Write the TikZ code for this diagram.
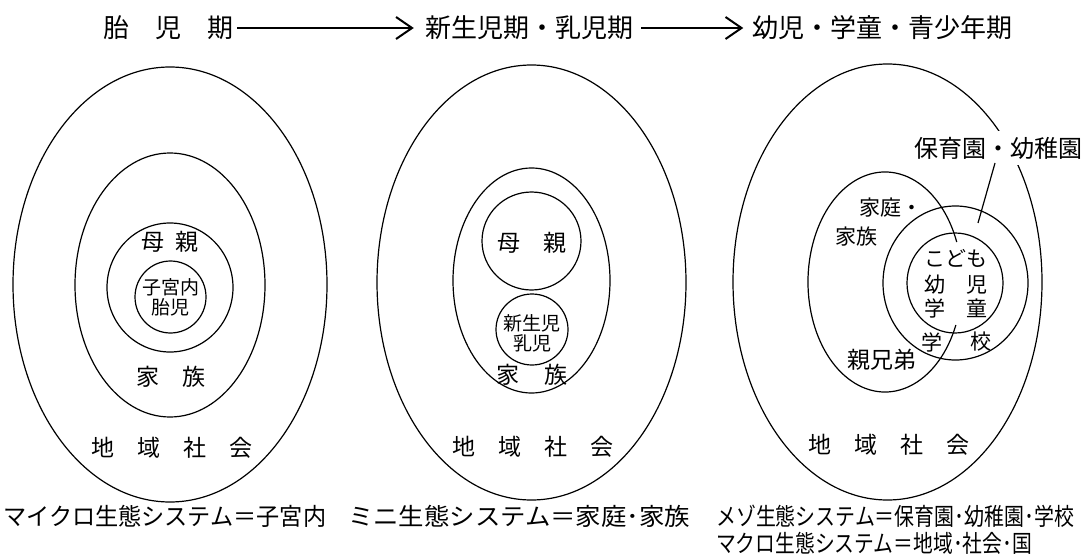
\documentclass[tikz,border=0pt]{standalone}
\usepackage{fontspec}
\setmainfont{Noto Sans CJK JP}
\usetikzlibrary{arrows.meta,shapes.geometric}
\begin{document}
\begin{tikzpicture}[x=1pt,y=-1pt,
  ring/.style={draw, ellipse, inner sep=0pt, line width=1.2pt},
  ln/.style={line width=1.2pt},
  ttl/.style={inner sep=0pt, font=\fontsize{26}{26}\selectfont},
  lab/.style={inner sep=0pt, font=\fontsize{23}{23}\selectfont},
  slab/.style={inner sep=0pt, font=\fontsize{19}{21}\selectfont, align=center},
  mlab/.style={inner sep=0pt, font=\fontsize{21}{23}\selectfont},
  captxt/.style={inner sep=0pt, anchor=west, font=\fontsize{24}{24}\selectfont},
  tarrow/.style={line width=2pt, -{Straight Barb[length=16pt,width=22pt,line width=2pt]}}
]
\useasboundingbox (0,0) rectangle (1086,559);

% ---- title ----
\node[ttl] (t1) at (168,28) {胎　児　期};
\node[ttl] (t2) at (529,28) {新生児期・乳児期};
\node[ttl] (t3) at (882.5,28) {幼児・学童・青少年期};
\draw[tarrow, shorten <=4pt, shorten >=11pt] (t1.east) -- (t2.west);
\draw[tarrow, shorten <=8pt, shorten >=9pt] (t2.east) -- (t3.west);

% ---- left panel ----
\node[ring, minimum width=314pt, minimum height=435pt] (L0) at (170,284.5) {};
\node[ring, minimum width=190pt, minimum height=264pt] (L1) at (170,285) {};
\node[ring, minimum width=126pt, minimum height=129pt] (L2) at (170,287.5) {};
\node[ring, minimum width=71pt, minimum height=72pt] (L3) at (170.5,297) {};
\node[lab] (Lmother) at (170,242) {母\hspace{12pt}親};
\node[slab] (Lfetus) at (170.5,297) {子宮内\\[-1pt]胎児};
\node[lab] (Lfamily) at (171,377) {家　族};
\node[lab] (Lsociety) at (171.5,448) {地　域　社　会};

% ---- middle panel ----
\node[ring, minimum width=309pt, minimum height=435pt] (M0) at (531.5,282.5) {};
\node[ring, minimum width=157pt, minimum height=225pt] (M1) at (531.5,280.5) {};
\node[ring, minimum width=99pt, minimum height=98pt] (M2) at (531.5,241) {};
\node[ring, minimum width=72pt, minimum height=71pt] (M3) at (532,329.5) {};
\node[lab] (Mmother) at (531.5,243) {母　親};
\node[slab] (Mbaby) at (532,333) {新生児\\[-1pt]乳児};
\node[lab] (Mfamily) at (532,375) {家\hspace{26pt}族};
\node[lab] (Msociety) at (532.5,447) {地　域　社　会};

% ---- right panel ----
\node[ring, minimum width=309pt, minimum height=436pt] (R0) at (887.5,282) {};
\draw[ln] (885,282) ++(23:77 and 110)
  arc[start angle=23, end angle=338.7, x radius=77, y radius=110];
\node[ring, minimum width=145pt, minimum height=154pt] (R1) at (955.5,283) {};
\node[ring, minimum width=96pt, minimum height=100pt] (R2) at (955,283) {};
\node[inner sep=0pt, inner ysep=6pt, inner xsep=3pt, fill=white,
      font=\fontsize{24}{24}\selectfont] (Rschool) at (998,148) {保育園・幼稚園};
\coordinate (leadtop) at (995,163);
\coordinate (leadend) at (978,223);
\draw[ln] (leadtop) -- (leadend);
\node[mlab] (Rhome) at (891,208) {家庭・};
\node[mlab] (Rhome2) at (856,237) {家族};
\node[mlab] (Rkid) at (956,258) {こども};
\node[mlab] (Rk1) at (935,285) {幼};
\node[mlab] (Rk2) at (977,285) {児};
\node[mlab] (Rk3) at (935,308) {学};
\node[mlab] (Rk4) at (977,308) {童};
\node[mlab] (Rs1) at (932,342) {学};
\node[mlab] (Rs2) at (981,342) {校};
\node[lab] (Rsib) at (882,360) {親兄弟};
\node[lab] (Rsociety) at (889,445) {地　域　社　会};

% ---- captions ----
\node[captxt] (c1) at (3,516) {\resizebox{323pt}{\height}{マイクロ生態システム＝子宮内}};
\node[captxt] (c2) at (348,516) {\resizebox{342pt}{\height}{ミニ生態システム＝家庭･家族}};
\node[captxt] (c3) at (716,516) {\resizebox{358pt}{\height}{メゾ生態システム＝保育園･幼稚園･学校}};
\node[captxt] (c4) at (716,543) {\resizebox{316pt}{\height}{マクロ生態システム＝地域･社会･国}};
\end{tikzpicture}
\end{document}
